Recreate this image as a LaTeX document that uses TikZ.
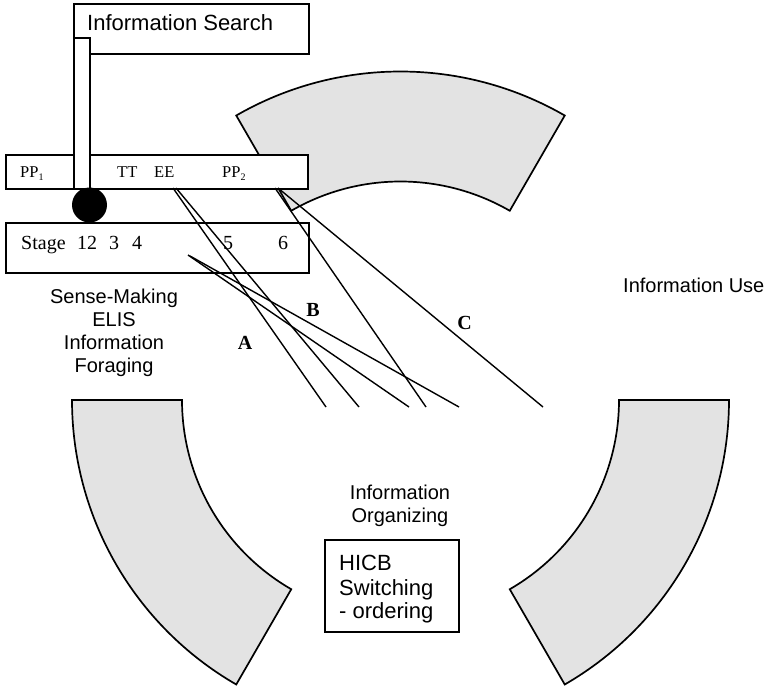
\documentclass[tikz,border=0pt]{standalone}
\usepackage{fontspec}
\setmainfont{Liberation Serif}
\newfontfamily\arial{Liberation Sans}
\definecolor{sectorgray}{HTML}{E3E3E3}
\begin{document}
\begin{tikzpicture}[x=1pt,y=-1pt,
  box/.style={draw, line width=1.7pt, fill=white, inner sep=0pt, anchor=north west},
  sector/.style={draw, line width=1.7pt, fill=sectorgray, line join=miter},
  conn/.style={line width=1.4pt},
  lbl/.style={inner sep=0pt, anchor=base west},
  clbl/.style={inner sep=0pt, anchor=base},
  sans/.style={font=\arial\fontsize{20}{24}\selectfont},
  sansbig/.style={font=\arial\fontsize{22}{26}\selectfont},
  serif/.style={font=\fontsize{20}{24}\selectfont},
  serifsmall/.style={font=\fontsize{16.5}{20}\selectfont},
  letter/.style={inner sep=0pt, anchor=center, font=\bfseries\fontsize{20}{24}\selectfont}]
\useasboundingbox (0,0) rectangle (768,688);
% sectors
\begin{scope}[shift={(400.5,400)}, yscale=-1]
  \draw[sector] (0:218.5) arc[start angle=0, end angle=-60, radius=218.5]
     -- (-60:328.5) arc[start angle=-60, end angle=0, radius=328.5] -- cycle;
  \draw[sector] (60:218.5) arc[start angle=60, end angle=120, radius=218.5]
     -- (120:328.5) arc[start angle=120, end angle=60, radius=328.5] -- cycle;
  \draw[sector] (180:218.5) arc[start angle=180, end angle=240, radius=218.5]
     -- (240:328.5) arc[start angle=240, end angle=180, radius=328.5] -- cycle;
\end{scope}
% boxes
\node[box, minimum width=302pt, minimum height=34pt] (ppbox) at (5,154) {};
\node[box, minimum width=303pt, minimum height=50pt] (stagebox) at (5,222) {};
\node[box, minimum width=235pt, minimum height=50pt] (search) at (73,3) {};
\node[box, minimum width=16pt, minimum height=151pt] (bar) at (73,37) {};
\node[circle, fill=black, minimum size=35pt, inner sep=0pt] (dot) at (89.5,205) {};
\node[box, minimum width=134pt, minimum height=92pt] (hicb) at (324,539) {};
% connector coordinates
\coordinate (ee1) at (173,188);
\coordinate (ee2) at (176,188);
\coordinate (pa) at (275,188);
\coordinate (pb) at (278,188);
\coordinate (st1) at (188,255);
\coordinate (st2) at (190,256);
\coordinate (e1) at (326,407);
\coordinate (e2) at (359,407);
\coordinate (e3) at (409,407);
\coordinate (e4) at (426,407);
\coordinate (e5) at (459,407);
\coordinate (e6) at (543,407);
\draw[conn] (ee1) -- (e1);
\draw[conn] (ee2) -- (e2);
\draw[conn] (pa) -- (e4);
\draw[conn] (pb) -- (e6);
\draw[conn] (st1) -- (e3);
\draw[conn] (st2) -- (e5);
% texts
\node[lbl, sansbig] (tsearch) at (87,30) {Information Search};
\node[lbl, serifsmall] (tpp1) at (20,177) {PP\raisebox{-0.2em}{\fontsize{10}{10}\selectfont 1}};
\node[lbl, serifsmall] (ttt) at (117,177) {TT};
\node[lbl, serifsmall] (tee) at (154,177) {EE};
\node[lbl, serifsmall] (tpp2) at (222,177) {PP\raisebox{-0.2em}{\fontsize{10}{10}\selectfont 2}};
\node[lbl, serif] (tstage) at (21,249) {Stage};
\node[lbl, serif] (t12) at (77,249) {12};
\node[lbl, serif] (t3) at (109,249) {3};
\node[lbl, serif] (t4) at (132,249) {4};
\node[lbl, serif] (t5) at (223,249) {5};
\node[lbl, serif] (t6) at (278,249) {6};
\node[letter] (la) at (245,343) {A};
\node[letter] (lb) at (313,310) {B};
\node[letter] (lc) at (464.5,322.5) {C};
\node[lbl, sans] (tuse) at (623,292) {Information Use};
\node[clbl, sans] (sm1) at (114,303) {Sense-Making};
\node[clbl, sans] (sm2) at (114,326) {ELIS};
\node[clbl, sans] (sm3) at (114,349) {Information};
\node[clbl, sans] (sm4) at (114,372) {Foraging};
\node[clbl, sans] (io1) at (400,499) {Information};
\node[clbl, sans] (io2) at (400,522) {Organizing};
\node[lbl, sansbig] (h1) at (339,570) {HICB};
\node[lbl, sansbig] (h2) at (339,595) {Switching};
\node[lbl, sansbig] (h3) at (339,618) {- ordering};
\end{tikzpicture}
\end{document}
